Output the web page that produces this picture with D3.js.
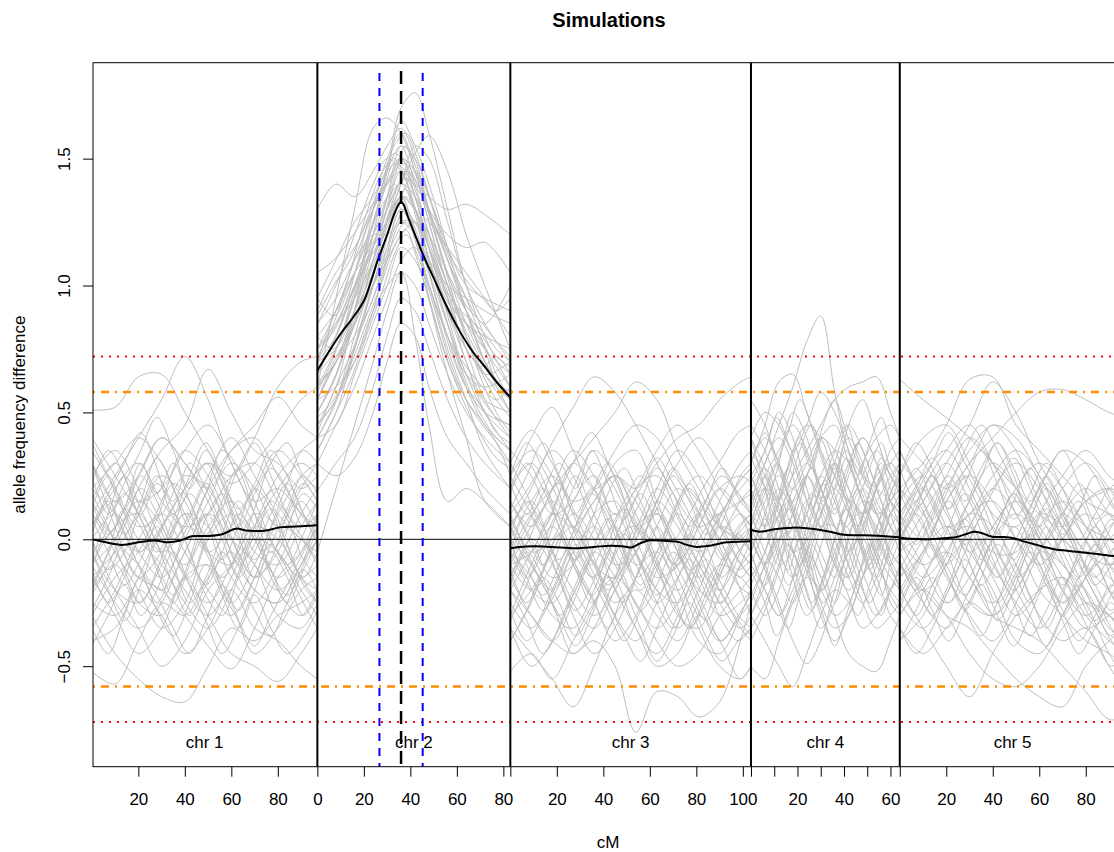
<!DOCTYPE html>
<html lang="en">
<head>
<meta charset="UTF-8">
<title>Simulations</title>
<script src="https://cdn.jsdelivr.net/npm/d3@7"></script>
<style>
  body{margin:0;background:#fff;}
  svg{display:block;font-family:"Liberation Sans",Arial,sans-serif;}
  .sim{fill:none;stroke:#bebebe;stroke-width:1;}
  .mean{fill:none;stroke:#000;stroke-width:2;}
  .axis text{font-size:17px;fill:#000;font-family:"Liberation Sans",Arial,sans-serif;}
  .axis line{stroke:#000;}
  .lab{font-size:17px;}
</style>
</head>
<body>
<svg id="chart" width="1114" height="852"></svg>
<script>
// chromosomes
const chrNames = ["chr 1", "chr 2", "chr 3", "chr 4", "chr 5"];
const chrLengths = [97, 83, 103.5, 64, 97];
const tickValues = [[20,40,60,80],[0,20,40,60,80],[0,20,40,60,80,100],[0,10,20,30,40,50,60],[0,20,40,60,80]];
const tickLabels = [[20,40,60,80],[0,20,40,60,80],[20,40,60,80,100],[20,40,60],[20,40,60,80]];
const yTicks = [-0.5, 0, 0.5, 1.0, 1.5];

// thresholds
const redLevels = [0.72, -0.72];
const orangeLevels = [0.58, -0.58];
// QTL on chr 2: peak and interval (cM)
const qtlPeak = 36;
const qtlInterval = [26.7, 45.3];
const qtlTop = 1.845;

// simulation positions (cM) per chromosome
const pos1 = [0,10,20,30,40,50,60,70,80,90,97];
const pos2 = [0,8,16,24,30,36,42,48,56,64,72,83];
const pos3 = [0,9,18,27,36,45,54,63,72,81,90,99,103.5];
const pos4 = [0,6,12,18,24,30,36,42,48,54,60,64];
const pos5 = [0,10,20,30,40,50,60,70,80,90,97];
const pos1b = [0,7,14,21,28,35,42,49,56,63,70,77,84,91,97];
const pos2b = [0,7,14,21,28,33,38,43,50,57,64,71,77,83];
const pos3b = [0,7,14,21,28,35,42,49,56,63,70,77,84,91,98,103.5];
const pos4b = [0,6,11,16,21,26,31,36,41,46,51,56,60,64];
const pos5b = [0,7,14,21,28,35,42,49,56,63,70,77,84,91,97];

const sims1 = [
  [0.51,0.52,0.64,0.65,0.50,0.35,0.22,0.30,0.42,0.55,0.60],
  [0.10,0.25,0.40,0.55,0.72,0.55,0.30,0.15,0.20,0.10,0.05],
  [-0.10,0.00,0.20,0.35,0.45,0.67,0.50,0.35,0.30,0.20,0.25],
  [0.20,0.10,-0.05,0.05,0.20,0.30,0.25,0.40,0.60,0.70,0.72],
  [0.30,0.15,0.25,0.40,0.30,0.20,0.35,0.45,0.56,0.45,0.40],
  [-0.30,-0.45,-0.55,-0.62,-0.64,-0.50,-0.35,-0.40,-0.30,-0.25,-0.20],
  [0.00,-0.20,-0.35,-0.50,-0.40,-0.20,-0.10,0.05,0.00,-0.15,-0.25],
  [-0.20,-0.10,-0.25,-0.30,-0.15,-0.30,-0.45,-0.50,-0.56,-0.45,-0.35],
  [-0.52,-0.57,-0.40,-0.25,-0.30,-0.15,-0.05,-0.20,-0.25,-0.10,0.00],
  [-0.10,0.05,0.10,-0.05,-0.20,-0.30,-0.20,-0.35,-0.40,-0.50,-0.55],
  [0.10,0.00,-0.15,-0.20,-0.30,-0.42,-0.51,-0.35,-0.15,-0.05,0.05],
  [0.05,0.20,0.30,0.15,0.05,0.10,0.25,0.30,0.15,0.05,0.10],
  [-0.15,-0.05,0.10,0.25,0.15,-0.05,-0.10,0.05,0.20,0.30,0.25],
  [0.25,0.35,0.20,0.00,-0.10,0.05,0.15,0.00,-0.15,-0.05,0.10],
  [-0.25,-0.30,-0.15,0.05,0.20,0.30,0.15,-0.05,-0.10,0.05,0.15],
  [0.15,0.00,-0.10,-0.20,-0.05,0.15,0.30,0.20,0.05,0.20,0.30],
  [-0.05,-0.20,-0.25,-0.10,0.10,0.05,-0.15,-0.25,-0.10,0.10,0.20],
  [0.35,0.20,0.05,0.10,0.25,0.20,0.00,-0.15,-0.05,0.15,0.05],
  [-0.35,-0.20,0.00,0.10,-0.05,-0.20,-0.30,-0.15,0.05,0.00,-0.10],
  [0.00,0.10,-0.05,-0.15,0.00,0.20,0.35,0.40,0.25,0.10,0.00],
  [0.20,0.30,0.40,0.30,0.10,-0.05,0.05,0.20,0.35,0.25,0.15],
  [-0.10,-0.25,-0.35,-0.25,-0.05,0.10,0.00,-0.10,-0.30,-0.35,-0.25],
  [0.40,0.25,0.10,-0.05,0.05,0.25,0.40,0.25,0.10,0.00,-0.05],
  [-0.20,0.00,0.15,0.05,-0.15,-0.25,-0.10,0.10,0.05,-0.15,-0.20],
  [0.10,-0.05,-0.20,-0.35,-0.25,0.00,0.10,0.00,-0.20,-0.30,-0.20],
  [-0.30,-0.15,-0.05,0.15,0.35,0.25,0.05,-0.10,-0.20,-0.10,0.10],
  [0.05,0.15,0.00,-0.10,-0.25,-0.35,-0.20,0.05,0.25,0.35,0.40],
  [-0.05,0.05,0.25,0.40,0.30,0.15,-0.05,-0.20,-0.25,-0.10,0.00],
  [0.30,0.05,-0.15,-0.05,0.10,-0.05,-0.25,-0.10,0.10,0.25,0.30],
  [-0.40,-0.35,-0.20,-0.30,-0.45,-0.35,-0.15,0.00,-0.05,-0.20,-0.30],
  [0.15,0.30,0.15,0.20,0.35,0.45,0.30,0.10,-0.05,-0.15,-0.10],
  [-0.15,-0.30,-0.45,-0.35,-0.15,-0.10,-0.25,-0.45,-0.35,-0.20,-0.15]
];
const sims1b = [
  [0.12,0.25,0.10,-0.05,0.08,0.22,0.15,-0.02,-0.15,-0.05,0.12,0.28,0.20,0.05,0.10],
  [-0.18,-0.05,0.12,0.05,-0.12,-0.25,-0.10,0.08,0.18,0.02,-0.15,-0.08,0.10,0.22,0.15],
  [0.30,0.18,0.02,0.15,0.32,0.20,0.05,0.18,0.35,0.28,0.10,-0.05,0.05,0.18,0.12],
  [-0.05,-0.20,-0.32,-0.18,0.00,0.10,-0.05,-0.22,-0.30,-0.15,0.02,0.12,-0.02,-0.18,-0.25],
  [0.05,0.18,0.30,0.42,0.28,0.10,0.20,0.35,0.22,0.05,-0.08,0.05,0.22,0.35,0.30],
  [-0.28,-0.15,-0.02,-0.12,-0.28,-0.38,-0.25,-0.10,-0.22,-0.35,-0.20,-0.05,-0.15,-0.30,-0.22],
  [0.18,0.05,-0.12,-0.25,-0.12,0.05,0.18,0.08,-0.08,0.05,0.20,0.12,-0.05,-0.15,-0.05],
  [-0.10,0.05,0.18,0.08,-0.05,0.08,0.25,0.38,0.25,0.12,0.22,0.35,0.25,0.10,0.02],
  [0.22,0.35,0.25,0.10,0.22,0.12,-0.05,-0.18,-0.05,0.10,0.02,-0.12,-0.25,-0.12,0.00],
  [-0.35,-0.45,-0.30,-0.15,-0.25,-0.10,0.05,-0.05,-0.20,-0.32,-0.42,-0.30,-0.18,-0.05,0.05],
  [0.00,-0.12,-0.05,0.12,0.25,0.15,0.30,0.20,0.05,-0.10,-0.02,0.15,0.08,-0.08,-0.15],
  [0.08,-0.05,-0.18,-0.08,0.05,-0.10,-0.25,-0.15,0.02,0.15,0.05,-0.12,-0.22,-0.10,0.05],
  [-0.22,-0.10,0.05,0.20,0.10,-0.05,-0.15,0.00,0.12,0.28,0.38,0.25,0.10,0.00,-0.08],
  [0.38,0.25,0.12,0.25,0.15,0.00,0.10,0.22,0.10,-0.05,-0.15,-0.02,0.12,0.25,0.18],
  [-0.08,0.10,0.25,0.12,-0.02,-0.18,-0.30,-0.18,-0.05,-0.15,-0.28,-0.38,-0.25,-0.12,-0.20],
  [0.15,0.02,0.12,0.30,0.18,0.30,0.15,0.02,0.15,0.28,0.15,0.00,-0.10,0.02,0.15],
  [-0.12,-0.25,-0.15,0.00,-0.10,-0.22,-0.08,0.10,0.00,-0.15,-0.05,0.10,0.22,0.10,-0.02],
  [0.02,0.15,0.02,-0.12,-0.22,-0.35,-0.45,-0.32,-0.18,-0.28,-0.15,-0.02,-0.12,-0.25,-0.35],
  [0.25,0.10,0.22,0.35,0.48,0.35,0.20,0.30,0.18,0.05,0.18,0.30,0.38,0.25,0.20],
  [-0.42,-0.30,-0.18,-0.30,-0.20,-0.05,-0.18,-0.32,-0.45,-0.35,-0.22,-0.35,-0.45,-0.38,-0.28]
];

const sims2 = [
  [0.55,0.70,0.90,1.20,1.45,1.70,1.76,1.60,1.30,1.00,0.80,0.60],
  [0.60,0.95,1.30,1.62,1.66,1.60,1.45,1.25,1.00,0.80,0.65,0.55],
  [1.30,1.40,1.35,1.45,1.55,1.62,1.50,1.30,1.05,0.85,0.70,0.55],
  [0.40,0.55,0.80,1.05,1.25,1.40,1.52,1.59,1.45,1.20,1.00,0.75],
  [0.50,0.65,0.85,1.10,1.30,1.45,1.40,1.35,1.30,1.32,1.28,1.20],
  [0.70,0.80,1.00,1.20,1.35,1.50,1.45,1.30,1.20,1.15,1.17,1.05],
  [0.19,0.30,0.40,0.60,0.80,0.95,0.90,0.75,0.55,0.40,0.30,0.20],
  [0.30,0.25,0.32,0.50,0.70,0.85,0.80,0.60,0.40,0.30,0.20,0.10],
  [0.45,0.55,0.70,0.90,1.00,1.05,0.80,0.45,0.15,0.20,0.15,0.05],
  [0.60,0.75,0.95,1.15,1.25,1.35,1.20,0.95,0.65,0.40,0.15,0.05],
  [-0.05,0.20,0.45,0.70,0.90,1.05,1.00,0.85,0.65,0.50,0.40,0.30],
  [0.80,0.90,1.05,1.25,1.45,1.55,1.50,1.35,1.10,0.90,0.75,0.60],
  [0.65,0.80,1.00,1.20,1.30,1.40,1.35,1.20,0.95,0.75,0.55,0.40],
  [0.90,1.05,1.15,1.30,1.40,1.45,1.35,1.15,0.95,0.85,0.80,0.75],
  [0.35,0.50,0.75,1.00,1.20,1.35,1.30,1.10,0.85,0.60,0.45,0.35],
  [0.75,0.85,0.95,1.10,1.25,1.40,1.55,1.50,1.25,1.00,0.85,0.70],
  [0.55,0.70,0.80,0.95,1.15,1.30,1.25,1.05,0.80,0.60,0.50,0.45],
  [0.45,0.60,0.90,1.25,1.40,1.50,1.35,1.15,0.90,0.70,0.50,0.35],
  [0.85,0.95,1.10,1.20,1.20,1.25,1.20,1.10,1.00,0.95,0.90,0.85],
  [0.60,0.70,0.85,1.00,1.10,1.20,1.25,1.15,0.95,0.70,0.55,0.50],
  [0.50,0.65,0.90,1.10,1.30,1.40,1.30,1.20,1.05,0.90,0.70,0.50],
  [0.70,0.85,1.00,1.15,1.35,1.55,1.40,1.20,1.00,0.80,0.65,0.70],
  [0.40,0.45,0.65,0.85,1.00,1.15,1.10,0.95,0.70,0.55,0.45,0.30],
  [0.95,1.10,1.25,1.35,1.45,1.50,1.45,1.30,1.10,0.95,0.85,1.00],
  [0.65,0.75,0.95,1.30,1.50,1.60,1.45,1.25,1.00,0.85,0.75,0.65],
  [0.30,0.45,0.60,0.80,0.95,1.10,1.15,1.00,0.75,0.55,0.35,0.20],
  [0.75,0.90,1.10,1.30,1.45,1.65,1.55,1.40,1.15,0.90,0.70,0.55],
  [0.55,0.60,0.70,0.90,1.10,1.25,1.25,1.10,0.90,0.75,0.65,0.50],
  [0.70,0.75,0.90,1.05,1.20,1.35,1.45,1.35,1.15,1.00,0.95,0.90],
  [0.85,1.00,1.20,1.40,1.50,1.45,1.30,1.10,0.85,0.65,0.50,0.40],
  [0.45,0.55,0.75,1.00,1.15,1.30,1.20,1.00,0.80,0.65,0.60,0.65],
  [0.60,0.70,0.85,1.10,1.25,1.35,1.30,1.25,1.15,1.05,0.95,0.80]
];
const sims2b = [
  [0.55,0.70,0.82,1.00,1.18,1.30,1.38,1.25,1.05,0.88,0.80,0.65,0.55,0.48],
  [0.80,0.75,0.92,1.15,1.35,1.48,1.45,1.32,1.12,0.95,0.75,0.68,0.72,0.65],
  [0.42,0.58,0.72,0.88,1.05,1.22,1.30,1.20,0.98,0.75,0.60,0.52,0.42,0.38],
  [0.70,0.88,1.02,1.12,1.25,1.42,1.55,1.45,1.22,1.02,0.90,0.80,0.72,0.68],
  [0.62,0.68,0.85,1.05,1.28,1.40,1.32,1.18,1.00,0.82,0.62,0.48,0.40,0.35],
  [0.95,0.88,1.00,1.18,1.32,1.38,1.42,1.38,1.25,1.08,0.92,0.85,0.78,0.72],
  [0.35,0.48,0.62,0.80,0.98,1.12,1.20,1.12,0.92,0.70,0.55,0.45,0.38,0.25],
  [0.75,0.82,0.98,1.22,1.40,1.55,1.60,1.50,1.30,1.10,0.95,0.78,0.62,0.55],
  [0.50,0.62,0.80,0.95,1.08,1.18,1.25,1.18,1.05,0.92,0.85,0.78,0.65,0.55],
  [0.88,1.00,1.10,1.25,1.42,1.52,1.48,1.35,1.15,0.98,0.82,0.70,0.62,0.58],
  [0.58,0.72,0.90,1.10,1.22,1.32,1.28,1.15,0.95,0.78,0.68,0.60,0.55,0.60],
  [0.65,0.78,0.95,1.08,1.20,1.35,1.45,1.40,1.22,1.00,0.80,0.62,0.50,0.42],
  [0.48,0.55,0.68,0.85,1.02,1.15,1.22,1.10,0.88,0.68,0.52,0.40,0.32,0.28],
  [0.72,0.85,1.05,1.28,1.45,1.50,1.42,1.28,1.10,0.95,0.88,0.82,0.75,0.70],
  [0.40,0.52,0.70,0.92,1.12,1.28,1.35,1.28,1.08,0.85,0.65,0.55,0.48,0.45],
  [1.05,1.10,1.18,1.28,1.38,1.45,1.48,1.40,1.25,1.12,1.02,0.95,0.90,0.95]
];

const sims3 = [
  [0.10,0.22,0.38,0.52,0.64,0.58,0.45,0.30,0.15,0.05,0.10,0.15,0.18],
  [-0.05,0.10,0.20,0.30,0.40,0.50,0.62,0.55,0.35,0.20,0.05,0.00,-0.05],
  [0.20,0.40,0.52,0.35,0.20,0.25,0.15,0.00,-0.10,0.05,0.20,0.25,0.22],
  [-0.10,-0.05,0.10,0.05,0.15,0.25,0.20,0.30,0.40,0.45,0.55,0.62,0.64],
  [0.30,0.43,0.30,0.15,0.20,0.35,0.45,0.40,0.25,0.15,0.05,0.00,0.05],
  [-0.20,-0.30,-0.40,-0.45,-0.40,-0.50,-0.76,-0.60,-0.62,-0.70,-0.64,-0.40,-0.25],
  [-0.35,-0.45,-0.55,-0.66,-0.50,-0.30,-0.20,-0.30,-0.40,-0.25,-0.10,-0.15,-0.20],
  [-0.52,-0.45,-0.55,-0.40,-0.25,-0.15,-0.25,-0.40,-0.50,-0.45,-0.30,-0.20,-0.15],
  [-0.30,-0.20,-0.05,0.10,0.00,-0.20,-0.35,-0.50,-0.45,-0.30,-0.40,-0.55,-0.50],
  [0.05,0.20,0.35,0.25,0.05,-0.10,-0.05,0.15,0.30,0.40,0.30,0.15,0.10],
  [-0.10,0.05,0.15,0.05,-0.10,-0.25,-0.15,0.05,0.20,0.10,-0.05,-0.15,-0.10],
  [0.25,0.10,-0.05,-0.20,-0.30,-0.20,0.00,0.15,0.05,-0.10,-0.20,-0.05,0.05],
  [-0.25,-0.35,-0.20,0.00,0.15,0.25,0.10,-0.10,-0.20,-0.05,0.15,0.30,0.35],
  [0.15,0.00,-0.15,-0.10,0.10,0.30,0.35,0.15,-0.05,-0.20,-0.25,-0.10,0.00],
  [-0.05,-0.15,-0.30,-0.35,-0.20,0.00,0.05,-0.10,-0.30,-0.35,-0.15,0.05,0.10],
  [0.35,0.25,0.10,0.15,0.30,0.20,0.00,-0.15,-0.10,0.05,0.20,0.10,0.00],
  [-0.40,-0.25,-0.05,0.05,-0.10,-0.30,-0.40,-0.25,-0.05,0.10,0.00,-0.20,-0.30],
  [0.00,0.15,0.25,0.10,-0.10,-0.15,0.00,0.20,0.35,0.25,0.05,-0.10,-0.15],
  [-0.15,-0.30,-0.40,-0.25,-0.05,0.05,-0.10,-0.25,-0.15,0.00,0.10,-0.05,-0.10],
  [0.10,-0.05,0.00,0.20,0.35,0.25,0.05,0.00,0.10,-0.05,-0.25,-0.35,-0.30],
  [-0.30,-0.10,0.05,-0.10,-0.25,-0.40,-0.30,-0.10,0.00,-0.15,-0.30,-0.25,-0.20],
  [0.20,0.30,0.15,-0.05,-0.15,0.00,0.20,0.25,0.10,-0.05,0.05,0.25,0.30],
  [-0.05,-0.20,-0.25,-0.10,0.10,0.15,-0.05,-0.20,-0.35,-0.20,0.00,0.10,0.05],
  [0.05,0.15,-0.05,-0.25,-0.35,-0.20,-0.05,0.10,-0.05,-0.25,-0.40,-0.30,-0.25],
  [-0.20,-0.05,0.10,0.30,0.20,0.05,-0.15,-0.05,0.15,0.25,0.15,-0.05,-0.10],
  [0.00,-0.10,-0.20,-0.05,0.05,-0.10,-0.25,-0.35,-0.25,-0.10,-0.20,-0.35,-0.40],
  [-0.35,-0.50,-0.40,-0.20,-0.05,-0.15,-0.35,-0.45,-0.30,-0.10,0.05,0.00,-0.05],
  [0.15,0.05,0.20,0.35,0.25,0.10,0.20,0.35,0.45,0.35,0.20,0.10,0.05],
  [-0.15,0.00,-0.10,-0.30,-0.45,-0.35,-0.15,0.00,-0.15,-0.35,-0.50,-0.55,-0.50],
  [0.25,0.35,0.25,0.05,0.00,0.10,-0.05,-0.20,-0.25,-0.10,0.10,0.20,0.25],
  [-0.10,-0.20,-0.10,0.15,0.25,0.05,-0.10,-0.05,-0.20,-0.40,-0.45,-0.30,-0.20],
  [0.05,-0.10,-0.25,-0.45,-0.35,-0.15,0.05,0.10,-0.05,-0.15,0.00,0.15,0.20]
];
const sims3b = [
  [-0.15,-0.02,0.12,0.22,0.10,-0.05,-0.18,-0.08,0.08,0.20,0.12,-0.02,-0.15,-0.25,-0.12,-0.05],
  [0.18,0.30,0.20,0.05,-0.08,0.02,0.18,0.28,0.15,0.00,-0.12,0.00,0.15,0.25,0.18,0.10],
  [-0.40,-0.28,-0.15,-0.25,-0.38,-0.28,-0.12,0.02,-0.10,-0.25,-0.35,-0.22,-0.08,-0.18,-0.30,-0.35],
  [0.05,-0.10,-0.22,-0.10,0.05,0.18,0.08,-0.08,-0.20,-0.08,0.08,0.20,0.10,-0.05,-0.18,-0.22],
  [0.30,0.18,0.05,0.18,0.32,0.42,0.30,0.15,0.02,0.12,0.25,0.15,0.02,0.10,0.22,0.28],
  [-0.05,0.10,0.00,-0.15,-0.28,-0.18,-0.02,0.12,0.02,-0.12,-0.25,-0.35,-0.22,-0.08,0.05,0.10],
  [-0.28,-0.40,-0.30,-0.15,-0.02,-0.12,-0.25,-0.38,-0.48,-0.35,-0.20,-0.08,-0.18,-0.32,-0.40,-0.35],
  [0.12,0.25,0.38,0.25,0.10,0.20,0.05,-0.10,-0.02,0.12,0.02,-0.12,-0.05,0.10,0.22,0.28],
  [-0.18,-0.05,-0.15,-0.30,-0.20,-0.05,0.08,-0.05,-0.18,-0.05,0.10,0.22,0.10,-0.02,-0.12,-0.08],
  [0.00,-0.15,-0.05,0.12,0.25,0.12,-0.02,-0.15,-0.28,-0.18,-0.05,-0.15,-0.28,-0.40,-0.30,-0.22],
  [0.22,0.10,0.20,0.05,-0.10,-0.22,-0.12,0.02,0.15,0.28,0.18,0.05,0.15,0.28,0.18,0.12],
  [-0.32,-0.18,-0.02,0.10,-0.02,-0.15,-0.28,-0.40,-0.28,-0.12,0.00,-0.10,-0.22,-0.12,0.00,0.05],
  [0.08,-0.05,-0.18,-0.30,-0.42,-0.30,-0.15,-0.25,-0.10,0.05,-0.08,-0.20,-0.32,-0.20,-0.05,0.00],
  [-0.08,0.05,0.18,0.30,0.20,0.35,0.22,0.08,0.18,0.05,-0.10,0.02,0.15,0.05,-0.08,-0.15],
  [0.15,0.02,-0.10,0.02,-0.12,-0.25,-0.12,0.02,-0.10,-0.22,-0.12,0.02,-0.08,-0.22,-0.32,-0.38],
  [-0.20,-0.32,-0.45,-0.35,-0.20,-0.08,-0.20,-0.10,0.05,-0.08,-0.22,-0.35,-0.25,-0.10,0.02,-0.05],
  [0.02,0.15,0.05,-0.08,0.05,0.18,0.30,0.20,0.05,0.15,0.28,0.18,0.05,-0.08,0.02,0.08],
  [-0.12,-0.25,-0.12,0.02,-0.10,-0.22,-0.35,-0.22,-0.35,-0.48,-0.38,-0.25,-0.38,-0.48,-0.40,-0.35],
  [0.25,0.38,0.28,0.15,0.02,-0.10,0.02,0.15,0.25,0.12,0.00,0.10,0.22,0.32,0.42,0.45],
  [-0.02,-0.15,-0.28,-0.18,-0.05,-0.15,-0.05,0.08,0.20,0.32,0.22,0.10,-0.02,-0.15,-0.05,0.02]
];

const sims4 = [
  [0.20,0.30,0.45,0.60,0.78,0.88,0.58,0.35,0.25,0.20,0.15,0.10],
  [0.30,0.45,0.62,0.65,0.50,0.35,0.25,0.15,0.10,0.20,0.30,0.35],
  [0.10,0.05,0.15,0.25,0.35,0.45,0.55,0.60,0.62,0.64,0.50,0.40],
  [0.40,0.50,0.45,0.35,0.45,0.58,0.50,0.35,0.20,0.10,0.15,0.25],
  [-0.30,-0.40,-0.50,-0.58,-0.45,-0.30,-0.20,-0.25,-0.35,-0.30,-0.20,-0.15],
  [-0.50,-0.55,-0.40,-0.25,-0.15,-0.20,-0.30,-0.25,-0.10,0.00,-0.10,-0.20],
  [-0.10,-0.20,-0.30,-0.20,-0.05,-0.15,-0.30,-0.45,-0.50,-0.52,-0.40,-0.30],
  [0.05,-0.10,-0.25,-0.40,-0.49,-0.40,-0.20,-0.05,0.00,-0.15,-0.30,-0.35],
  [0.15,0.30,0.40,0.30,0.15,0.05,0.15,0.30,0.40,0.30,0.15,0.10],
  [-0.15,-0.05,0.10,0.20,0.10,-0.05,-0.15,-0.05,0.10,0.25,0.30,0.25],
  [0.35,0.25,0.10,0.00,0.10,0.25,0.35,0.30,0.15,0.00,-0.10,-0.05],
  [0.00,0.15,0.25,0.10,-0.10,-0.20,-0.10,0.10,0.20,0.10,-0.05,-0.10],
  [-0.25,-0.10,0.05,0.15,0.25,0.15,0.00,-0.15,-0.25,-0.15,0.00,0.05],
  [0.25,0.10,-0.05,-0.15,-0.05,0.10,0.25,0.40,0.30,0.15,0.05,0.00],
  [0.10,0.25,0.35,0.45,0.35,0.20,0.05,-0.05,0.05,0.20,0.35,0.40],
  [-0.05,-0.20,-0.30,-0.15,0.05,0.20,0.30,0.20,0.05,-0.10,-0.20,-0.25],
  [0.45,0.35,0.20,0.05,0.00,0.10,0.20,0.10,-0.05,-0.15,-0.05,0.05],
  [0.05,0.00,0.15,0.35,0.45,0.40,0.25,0.15,0.25,0.35,0.25,0.20],
  [-0.20,-0.30,-0.20,0.00,0.15,0.05,-0.10,-0.20,-0.10,0.05,0.15,0.20],
  [0.20,0.05,-0.10,-0.05,0.10,0.25,0.15,-0.05,-0.20,-0.30,-0.20,-0.10],
  [-0.35,-0.25,-0.10,0.05,-0.05,-0.25,-0.35,-0.30,-0.15,-0.05,0.10,0.15],
  [0.30,0.40,0.30,0.15,0.25,0.40,0.45,0.30,0.15,0.05,0.00,0.05],
  [0.00,-0.10,0.00,0.20,0.30,0.20,0.05,0.15,0.30,0.40,0.45,0.40],
  [-0.10,0.05,0.20,0.10,-0.10,-0.30,-0.40,-0.30,-0.15,0.00,0.10,0.05],
  [0.15,0.20,0.05,-0.15,-0.30,-0.20,0.00,0.15,0.10,-0.05,-0.15,-0.20],
  [0.55,0.45,0.30,0.20,0.30,0.40,0.35,0.20,0.10,0.15,0.25,0.30],
  [-0.05,0.10,0.30,0.50,0.40,0.20,0.10,0.25,0.40,0.30,0.10,0.00],
  [0.10,-0.05,-0.15,-0.25,-0.10,0.05,0.05,-0.10,-0.25,-0.35,-0.30,-0.25],
  [0.25,0.35,0.50,0.40,0.20,0.05,0.20,0.45,0.55,0.40,0.25,0.20],
  [-0.30,-0.15,0.00,-0.05,-0.20,-0.35,-0.25,0.00,0.15,0.10,-0.05,-0.10],
  [0.40,0.20,0.00,0.10,0.25,0.10,-0.10,-0.15,0.00,0.20,0.30,0.25],
  [0.05,0.20,0.15,-0.05,0.00,0.15,0.30,0.45,0.35,0.20,0.05,-0.05]
];
const sims4b = [
  [0.15,0.28,0.18,0.02,-0.10,0.02,0.18,0.30,0.18,0.05,-0.08,0.05,0.18,0.25],
  [-0.18,-0.05,0.08,-0.05,-0.18,-0.28,-0.15,0.00,0.12,0.02,-0.12,-0.22,-0.10,0.00],
  [0.32,0.20,0.08,0.20,0.35,0.45,0.32,0.18,0.05,0.15,0.28,0.38,0.28,0.22],
  [0.00,-0.12,-0.25,-0.35,-0.22,-0.08,0.05,-0.08,-0.20,-0.30,-0.18,-0.05,0.05,0.10],
  [0.22,0.35,0.48,0.38,0.25,0.12,0.22,0.35,0.45,0.32,0.20,0.10,0.18,0.28],
  [-0.30,-0.18,-0.05,0.08,-0.05,-0.18,-0.30,-0.42,-0.30,-0.15,-0.02,-0.12,-0.25,-0.30],
  [0.08,0.20,0.30,0.18,0.05,0.18,0.10,-0.05,-0.15,-0.02,0.12,0.25,0.15,0.05],
  [-0.05,0.08,-0.05,-0.18,-0.08,0.08,0.22,0.12,0.25,0.38,0.28,0.15,0.05,0.00],
  [0.40,0.28,0.15,0.02,0.15,0.28,0.18,0.05,-0.08,-0.18,-0.05,0.10,0.22,0.30],
  [-0.12,-0.25,-0.38,-0.28,-0.15,-0.02,-0.12,-0.25,-0.12,0.02,0.15,0.05,-0.08,-0.15],
  [0.10,0.00,0.12,0.25,0.38,0.28,0.40,0.30,0.15,0.05,0.18,0.30,0.20,0.12],
  [-0.22,-0.10,0.02,0.15,0.05,-0.08,-0.20,-0.08,0.05,-0.08,-0.20,-0.30,-0.20,-0.12],
  [0.05,0.18,0.30,0.42,0.55,0.45,0.30,0.20,0.32,0.20,0.08,0.00,0.10,0.18],
  [0.25,0.12,0.00,-0.12,0.00,-0.12,-0.25,-0.15,-0.02,0.10,0.00,-0.12,-0.22,-0.28],
  [-0.40,-0.28,-0.15,-0.02,-0.12,-0.25,-0.15,0.00,0.12,0.00,-0.12,-0.02,0.10,0.15],
  [0.18,0.05,0.15,0.28,0.15,0.02,0.12,0.25,0.35,0.25,0.38,0.48,0.38,0.30],
  [-0.05,-0.18,-0.08,0.05,0.18,0.28,0.15,0.28,0.15,0.02,-0.10,0.02,0.15,0.20],
  [0.30,0.42,0.30,0.18,0.08,-0.05,-0.15,-0.05,0.08,0.20,0.10,-0.02,-0.12,-0.18],
  [0.02,-0.10,0.02,0.12,0.02,-0.12,0.00,0.12,0.02,-0.12,-0.25,-0.15,-0.02,0.05],
  [0.12,0.25,0.15,0.28,0.40,0.30,0.45,0.55,0.42,0.30,0.20,0.32,0.25,0.18]
];

const sims5 = [
  [0.20,0.30,0.45,0.63,0.64,0.45,0.35,0.25,0.15,0.10,0.05],
  [0.63,0.55,0.48,0.40,0.30,0.20,0.10,0.05,0.15,0.20,0.25],
  [0.00,0.15,0.30,0.45,0.62,0.50,0.30,0.15,0.05,0.00,-0.05],
  [0.10,0.00,0.15,0.30,0.40,0.50,0.58,0.59,0.55,0.50,0.48],
  [-0.20,-0.35,-0.50,-0.62,-0.45,-0.30,-0.20,-0.15,-0.25,-0.30,-0.35],
  [-0.10,-0.20,-0.30,-0.35,-0.45,-0.55,-0.62,-0.66,-0.50,-0.40,-0.35],
  [0.00,-0.10,-0.05,-0.15,-0.30,-0.35,-0.40,-0.50,-0.60,-0.71,-0.70],
  [-0.30,-0.20,-0.30,-0.45,-0.55,-0.58,-0.50,-0.35,-0.25,-0.30,-0.40],
  [0.15,0.25,0.10,-0.05,0.05,0.20,0.30,0.20,0.05,-0.10,-0.15],
  [-0.15,-0.05,0.15,0.25,0.15,0.00,-0.10,0.00,0.15,0.20,0.10],
  [0.30,0.20,0.05,0.10,0.25,0.35,0.25,0.05,-0.10,-0.20,-0.25],
  [-0.05,0.10,0.25,0.40,0.30,0.10,-0.05,-0.20,-0.30,-0.20,-0.10],
  [0.05,-0.10,-0.25,-0.15,0.05,0.15,0.05,-0.10,-0.20,-0.35,-0.40],
  [-0.30,-0.15,0.00,0.05,-0.10,-0.25,-0.35,-0.20,0.00,0.10,0.05],
  [0.40,0.30,0.20,0.30,0.45,0.35,0.15,0.00,-0.05,0.05,0.10],
  [-0.10,-0.25,-0.35,-0.20,0.00,0.10,0.00,-0.15,-0.30,-0.40,-0.45],
  [0.20,0.05,-0.10,0.05,0.20,0.10,-0.10,-0.25,-0.15,0.00,0.05],
  [-0.25,-0.35,-0.20,0.05,0.20,0.30,0.20,0.05,-0.05,-0.15,-0.20],
  [0.10,0.25,0.35,0.20,0.00,-0.15,-0.05,0.10,0.20,0.10,0.00],
  [-0.05,0.00,-0.15,-0.30,-0.40,-0.25,-0.05,0.10,0.00,-0.20,-0.30],
  [0.25,0.40,0.45,0.30,0.10,0.05,0.20,0.35,0.30,0.15,0.05],
  [0.00,-0.15,-0.05,0.15,0.30,0.20,0.00,-0.20,-0.35,-0.30,-0.25],
  [-0.40,-0.30,-0.10,0.00,-0.15,-0.30,-0.20,0.00,0.10,-0.05,-0.15],
  [0.10,0.20,0.05,-0.15,-0.25,-0.10,0.10,0.25,0.35,0.25,0.20],
  [-0.20,-0.05,0.05,-0.05,-0.20,-0.40,-0.45,-0.30,-0.15,-0.05,0.00],
  [0.35,0.15,0.00,0.10,0.15,0.00,-0.20,-0.30,-0.40,-0.45,-0.50],
  [-0.15,0.00,0.20,0.35,0.45,0.40,0.25,0.10,-0.05,-0.10,-0.05],
  [0.05,0.15,0.30,0.15,-0.05,-0.05,0.10,0.05,-0.15,-0.30,-0.35],
  [-0.35,-0.45,-0.35,-0.25,-0.30,-0.15,0.05,0.15,0.05,-0.10,-0.20],
  [0.20,0.10,-0.05,-0.25,-0.30,-0.20,-0.05,-0.10,-0.25,-0.45,-0.55],
  [0.00,0.20,0.35,0.45,0.30,0.15,0.05,0.20,0.30,0.20,0.10],
  [-0.10,-0.20,-0.10,0.10,0.05,-0.10,-0.30,-0.40,-0.35,-0.50,-0.60]
];
const sims5b = [
  [0.08,0.20,0.32,0.20,0.05,-0.08,0.05,0.18,0.08,-0.05,-0.18,-0.08,0.05,-0.05,-0.15],
  [-0.22,-0.10,0.02,0.15,0.02,-0.12,-0.25,-0.15,0.00,0.12,0.00,-0.15,-0.28,-0.38,-0.30],
  [0.25,0.38,0.28,0.12,0.22,0.35,0.22,0.08,0.18,0.30,0.20,0.05,-0.05,0.05,0.15],
  [-0.05,-0.18,-0.30,-0.20,-0.05,0.08,-0.05,-0.18,-0.30,-0.42,-0.30,-0.18,-0.28,-0.40,-0.45],
  [0.35,0.22,0.08,0.20,0.35,0.45,0.35,0.22,0.10,0.00,0.10,0.22,0.12,0.00,-0.08],
  [-0.35,-0.45,-0.35,-0.20,-0.08,-0.20,-0.32,-0.20,-0.05,-0.15,-0.28,-0.40,-0.30,-0.18,-0.25],
  [0.02,0.15,0.02,-0.12,-0.22,-0.10,0.05,0.18,0.05,-0.08,0.05,0.15,0.02,-0.10,-0.05],
  [-0.12,0.00,0.12,0.25,0.15,0.28,0.38,0.25,0.10,0.22,0.10,-0.05,-0.15,-0.05,0.02],
  [0.18,0.05,-0.08,0.05,0.18,0.08,-0.08,-0.20,-0.10,0.05,-0.08,-0.22,-0.32,-0.22,-0.12],
  [-0.28,-0.15,-0.28,-0.40,-0.28,-0.15,-0.02,-0.12,-0.25,-0.12,0.00,-0.10,-0.22,-0.35,-0.42],
  [0.10,-0.02,0.10,0.22,0.12,-0.02,-0.15,-0.02,0.12,0.25,0.35,0.22,0.08,0.15,0.25],
  [-0.02,0.10,-0.02,-0.15,-0.28,-0.38,-0.25,-0.10,-0.22,-0.35,-0.22,-0.08,-0.18,-0.28,-0.20],
  [0.28,0.15,0.25,0.10,-0.02,0.10,0.22,0.32,0.20,0.05,-0.05,-0.15,-0.05,0.08,0.00],
  [-0.18,-0.30,-0.18,-0.05,0.08,-0.05,-0.15,-0.05,0.08,0.20,0.08,-0.05,-0.18,-0.10,-0.02],
  [0.05,0.18,0.30,0.42,0.30,0.18,0.05,-0.08,0.02,-0.12,-0.25,-0.15,-0.02,-0.15,-0.28],
  [-0.40,-0.28,-0.15,-0.25,-0.12,0.00,-0.12,-0.25,-0.38,-0.28,-0.15,-0.28,-0.40,-0.50,-0.45],
  [0.15,0.28,0.15,0.02,0.12,0.25,0.38,0.28,0.15,0.25,0.12,0.00,0.10,0.20,0.12],
  [-0.08,-0.20,-0.08,0.05,-0.05,-0.18,-0.08,0.05,-0.05,-0.18,-0.32,-0.45,-0.35,-0.25,-0.35],
  [0.00,0.12,0.25,0.12,0.25,0.15,0.02,0.15,0.28,0.15,0.02,0.12,0.25,0.15,0.02],
  [-0.25,-0.12,-0.02,-0.15,-0.28,-0.18,-0.30,-0.42,-0.30,-0.18,-0.30,-0.20,-0.10,-0.22,-0.32]
];

// mean of simulations per chromosome
const meanPos1 = [0,5,13,20,27,33,38,43,50,56,62,66,70,75,81,88,97];
const meanVal1 = [0,-0.01,-0.022,-0.012,-0.005,-0.012,-0.005,0.012,0.013,0.02,0.042,0.035,0.033,0.035,0.047,0.05,0.055];
const meanPos2 = [0,5,10,15,20,26,30,33,35,36,37,39,42,46,50,55,60,66,72,78,83];
const meanVal2 = [0.665,0.74,0.81,0.87,0.94,1.10,1.20,1.28,1.32,1.33,1.32,1.27,1.20,1.11,1.03,0.93,0.84,0.75,0.68,0.61,0.56];
const meanPos3 = [0,4,10,18,28,36,43,48,52,56,60,66,72,76,80,86,93,100,103.5];
const meanVal3 = [-0.035,-0.03,-0.027,-0.03,-0.035,-0.03,-0.025,-0.027,-0.032,-0.015,-0.004,-0.006,-0.01,-0.022,-0.03,-0.025,-0.012,-0.009,-0.008];
const meanPos4 = [0,4,10,18,24,28,34,40,46,52,58,64];
const meanVal4 = [0.037,0.03,0.04,0.046,0.044,0.04,0.03,0.018,0.016,0.015,0.012,0.008];
const meanPos5 = [0,5,10,17,24,29,32,35,40,45,49,54,59,63,67,72,77,85,92,97];
const meanVal5 = [0.006,0.002,0.0,0.003,0.008,0.022,0.03,0.025,0.01,0.009,0.004,-0.01,-0.022,-0.032,-0.04,-0.045,-0.05,-0.058,-0.066,-0.07];

// table of simulation sets: chromosome index, positions, values
const simSets = [
  [0, pos1, sims1], [0, pos1b, sims1b],
  [1, pos2, sims2], [1, pos2b, sims2b],
  [2, pos3, sims3], [2, pos3b, sims3b],
  [3, pos4, sims4], [3, pos4b, sims4b],
  [4, pos5, sims5], [4, pos5b, sims5b]
];
const allMeanPos = [meanPos1, meanPos2, meanPos3, meanPos4, meanPos5];
const allMeanVal = [meanVal1, meanVal2, meanVal3, meanVal4, meanVal5];

// layout
const W = 1114, H = 852;
const plotLeft = 93, plotTop = 62.7, plotBottom = 766.7;
const chrStart = chrLengths.map((d, i) => d3.sum(chrLengths.slice(0, i)));
const total = d3.sum(chrLengths);

const svg = d3.select('#chart').attr('viewBox', [0, 0, W, H]);

const xScale = d3.scaleLinear().domain([0.5, total]).range([plotLeft, plotLeft + (total - 0.5) * 2.325]);
const yScale = d3.scaleLinear().domain([-0.896, 1.878]).range([plotBottom, plotTop]);
const plotRight = xScale(total);
const gx = (c, cm) => xScale(chrStart[c] + cm);

svg.append('clipPath').attr('id', 'clip')
  .append('rect').attr('x', plotLeft).attr('y', plotTop)
  .attr('width', plotRight - plotLeft).attr('height', plotBottom - plotTop);

const plot = svg.append('g').attr('clip-path', 'url(#clip)');
const line = d3.line().curve(d3.curveCatmullRom.alpha(0.5));

// grey simulation curves
simSets.forEach(([c, pos, sims]) => {
  plot.append('g').selectAll('path').data(sims).join('path')
    .attr('class', 'sim')
    .attr('d', s => line(s.map((v, i) => [gx(c, pos[i]), yScale(v)])));
});

// zero line
plot.append('line')
  .attr('x1', plotLeft).attr('x2', plotRight)
  .attr('y1', yScale(0)).attr('y2', yScale(0))
  .attr('stroke', '#000').attr('stroke-width', 1);

// thresholds
plot.append('g').selectAll('line').data(redLevels).join('line')
  .attr('x1', plotLeft).attr('x2', plotRight)
  .attr('y1', d => yScale(d)).attr('y2', d => yScale(d))
  .attr('stroke', '#ff0000').attr('stroke-width', 2)
  .attr('stroke-dasharray', '2 6');
plot.append('g').selectAll('line').data(orangeLevels).join('line')
  .attr('x1', plotLeft).attr('x2', plotRight)
  .attr('y1', d => yScale(d)).attr('y2', d => yScale(d))
  .attr('stroke', '#ff8c00').attr('stroke-width', 2.5)
  .attr('stroke-dasharray', '2 6 8 6');

// mean curves
allMeanVal.forEach((vals, c) => {
  const pos = allMeanPos[c];
  plot.append('path').attr('class', 'mean')
    .attr('d', line(vals.map((v, i) => [gx(c, pos[i]), yScale(v)])));
});

// chromosome boundaries
plot.append('g').selectAll('line').data(chrStart.slice(1)).join('line')
  .attr('x1', d => xScale(d)).attr('x2', d => xScale(d))
  .attr('y1', plotTop).attr('y2', plotBottom)
  .attr('stroke', '#000').attr('stroke-width', 2);

// QTL interval and peak on chr 2
plot.append('g').selectAll('line').data(qtlInterval).join('line')
  .attr('x1', d => gx(1, d)).attr('x2', d => gx(1, d))
  .attr('y1', yScale(qtlTop) + 2).attr('y2', plotBottom)
  .attr('stroke', '#0000ff').attr('stroke-width', 2)
  .attr('stroke-dasharray', '8 7');
plot.append('line')
  .attr('x1', gx(1, qtlPeak)).attr('x2', gx(1, qtlPeak))
  .attr('y1', yScale(qtlTop)).attr('y2', plotBottom)
  .attr('stroke', '#000').attr('stroke-width', 2.5)
  .attr('stroke-dasharray', '13 7');

// chromosome labels
svg.append('g').selectAll('text').data(chrNames).join('text')
  .attr('class', 'lab')
  .attr('x', (d, i) => xScale(chrStart[i] + chrLengths[i] / 2))
  .attr('y', 748)
  .attr('text-anchor', 'middle')
  .text(d => d);

// frame
svg.append('rect')
  .attr('x', plotLeft).attr('y', plotTop)
  .attr('width', plotRight - plotLeft).attr('height', plotBottom - plotTop)
  .attr('fill', 'none').attr('stroke', '#000').attr('stroke-width', 1);

// x axis: per-chromosome ticks
const xTicks = [], xLabelMap = new Map();
tickValues.forEach((tv, c) => tv.forEach(t => xTicks.push(chrStart[c] + t)));
tickLabels.forEach((tl, c) => tl.forEach(t => xLabelMap.set(chrStart[c] + t, String(t))));
const xAxis = svg.append('g').attr('class', 'axis')
  .attr('transform', `translate(0,${plotBottom})`)
  .call(d3.axisBottom(xScale).tickValues(xTicks).tickSize(10)
    .tickFormat(d => xLabelMap.get(d) || ''));
xAxis.select('.domain').remove();
xAxis.selectAll('text').attr('y', 26);

// y axis
const yAxis = svg.append('g').attr('class', 'axis')
  .attr('transform', `translate(${plotLeft},0)`)
  .call(d3.axisLeft(yScale).tickValues(yTicks).tickSize(10).tickFormat(d3.format('.1f')));
yAxis.select('.domain').remove();
yAxis.selectAll('text')
  .attr('x', null).attr('dy', null)
  .attr('text-anchor', 'middle')
  .attr('transform', 'translate(-23,0) rotate(-90)');

// titles
svg.append('text').attr('x', 609).attr('y', 27)
  .attr('text-anchor', 'middle').attr('font-weight', 'bold').attr('font-size', 20)
  .text('Simulations');
svg.append('text').attr('class', 'lab').attr('x', 608).attr('y', 848)
  .attr('text-anchor', 'middle').text('cM');
svg.append('text').attr('class', 'lab')
  .attr('transform', `translate(25,${(plotTop + plotBottom) / 2}) rotate(-90)`)
  .attr('text-anchor', 'middle').text('allele frequency difference');
</script>
</body>
</html>
